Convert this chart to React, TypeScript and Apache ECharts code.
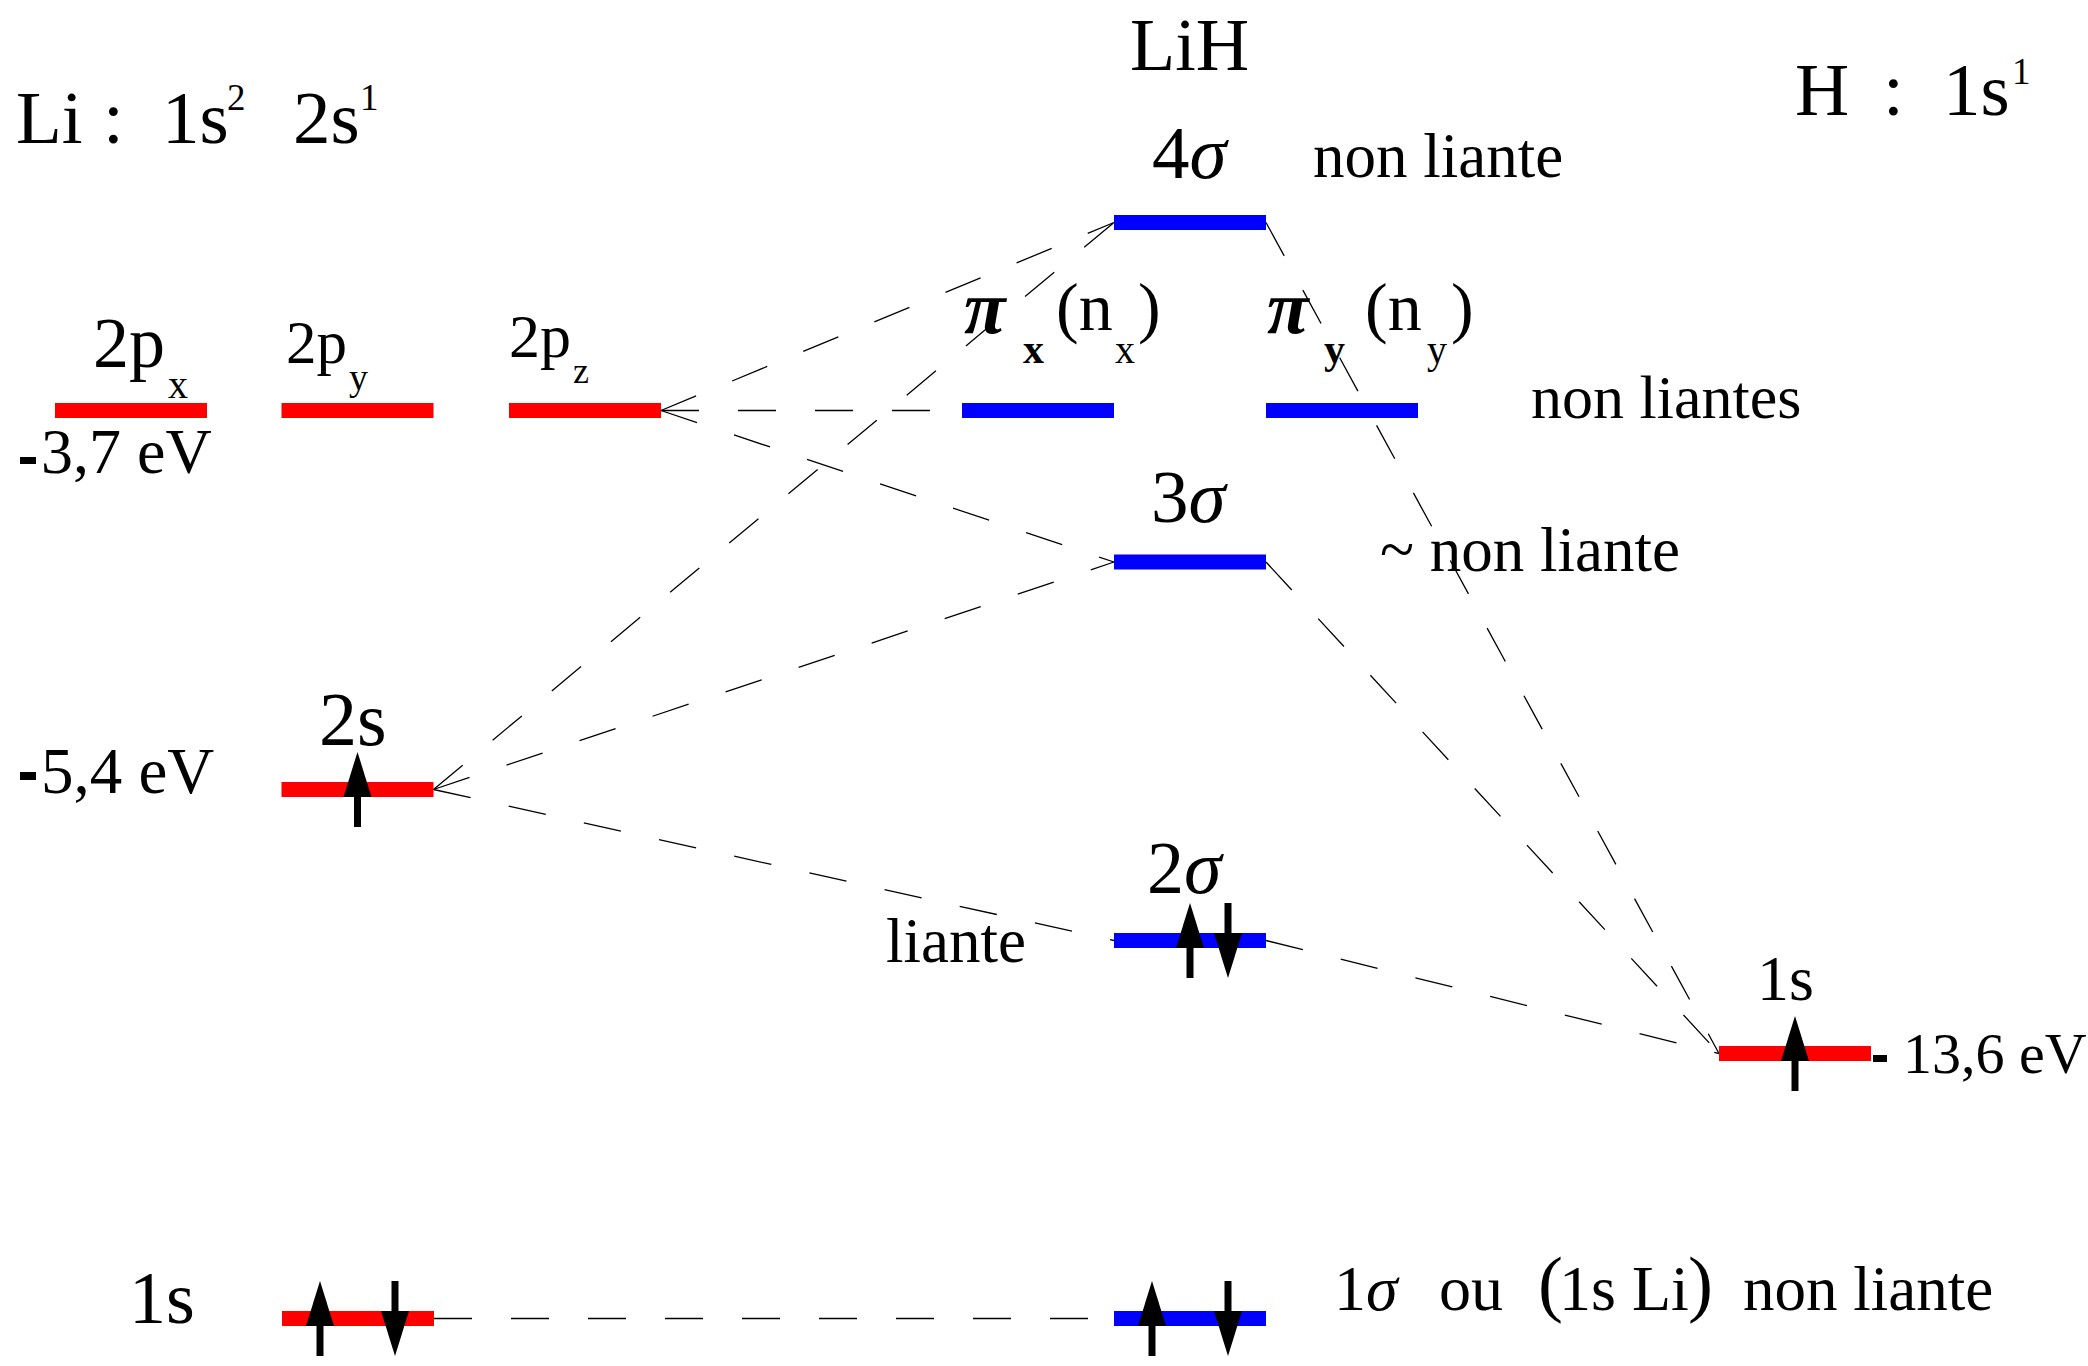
import React, { useEffect, useRef } from "react";
import * as echarts from "echarts";

const SERIF = '"Liberation Serif", "Times New Roman", Times, serif';
const BASE_K = 0.34; // distance from baseline to em-box centre, in em

// ---- Data -------------------------------------------------------------
// Orbitals of the diagram (atomic orbitals of Li and H, molecular orbitals of LiH)
const orbitalNames = ["2px", "2py", "2pz", "2s Li", "1s Li", "4σ", "πx", "πy", "3σ", "2σ", "1σ", "1s H"];
// column of each orbital along the horizontal diagram axis
const orbitalColumns = [131, 357.5, 585, 357.5, 358, 1190, 1038, 1342, 1190, 1190, 1190, 1795];
// schematic energy level (diagram height axis, top = highest energy)
const orbitalLevels = [410.5, 410.5, 410.5, 789.5, 1318.5, 222.5, 410.5, 410.5, 562, 940.5, 1318.5, 1053.5];
// atomic (red) or molecular (blue)
const orbitalKinds = ["atom", "atom", "atom", "atom", "atom", "mo", "mo", "mo", "mo", "mo", "mo", "atom"];
// electron spins in each orbital
const orbitalElectrons: string[][] = [[], [], [], ["up"], ["up", "down"], [], [], [], [], ["up", "down"], ["up", "down"], ["up"]];
// correlation lines (from orbital -> to orbital)
const connections: [string, string][] = [
  ["2pz", "4σ"],
  ["2pz", "πx"],
  ["2pz", "3σ"],
  ["2s Li", "4σ"],
  ["2s Li", "3σ"],
  ["2s Li", "2σ"],
  ["1s Li", "1σ"],
  ["4σ", "1s H"],
  ["3σ", "1s H"],
  ["2σ", "1s H"],
];
const energyLabels = ["3,7 eV", "5,4 eV", "13,6 eV"];

// ---- Layout / style ---------------------------------------------------
const HALF = 76;
const BAR_H = 15;
const RED = "#ff0000";
const BLUE = "#0000ff";
const electronOffsets: Record<string, number[]> = {
  "2s Li": [0],
  "1s Li": [-38, 37],
  "2σ": [0, 38],
  "1σ": [-38, 38],
  "1s H": [0],
};

// label pieces: [dx, dyBaseline, text, size, style] or ["rect", dx, dy, w, h]
type Piece = any[];
const labelLayout: Record<string, Piece[]> = {
  "2px": [
    [-38, -43.5, "2p", 72, "n"],
    [37, -12.5, "x", 40, "n"],
    ["rect", -111, 46.5, 16, 7],
    [-90, 62.5, energyLabels[0], 64, "n"],
  ],
  "2py": [
    [-71.5, -47.5, "2p", 61, "n"],
    [-8.5, -20.5, "y", 38, "n"],
  ],
  "2pz": [
    [-76, -53.5, "2p", 62, "n"],
    [-12, -27.5, "z", 36, "n"],
  ],
  "2s Li": [
    [-38.5, -44.5, "2s", 76, "n"],
    ["rect", -337.5, -17.5, 16, 8],
    [-316.5, 3.5, energyLabels[1], 65, "n"],
  ],
  "1s Li": [[-229, 4.5, "1s", 74, "n"]],
  "4σ": [
    [-38, -44.5, "4", 75, "n"],
    [-0.5, -44.5, "σ", 75, "i"],
    [123, -45.5, "non liante", 63, "n"],
  ],
  "πx": [
    [-74, -77.5, "π", 76, "bi"],
    [-15, -47.5, "x", 42, "b"],
    [18, -80.5, "(n", 68, "n"],
    [77, -47.5, "x", 40, "n"],
    [100, -80.5, ")", 68, "n"],
  ],
  "πy": [
    [-75, -77.5, "π", 76, "bi"],
    [-18, -47.5, "y", 42, "b"],
    [23, -80.5, "(n", 68, "n"],
    [85, -47.5, "y", 40, "n"],
    [109, -80.5, ")", 68, "n"],
    [189, 7.5, "non liantes", 62, "n"],
  ],
  "3σ": [
    [-39, -40, "3", 75, "n"],
    [-1.5, -40, "σ", 75, "i"],
    [190, 9, "~ non liante", 63, "n"],
  ],
  "2σ": [
    [-43, -47.5, "2", 74, "n"],
    [-6, -47.5, "σ", 76, "i"],
    [-304, 21.5, "liante", 63, "n"],
  ],
  "1σ": [
    [144, -8.5, "1", 64, "n"],
    [176, -8.5, "σ", 64, "i"],
    [249, -8.5, "ou", 64, "n"],
    [348, -10.5, "(", 75, "n"],
    [369, -8.5, "1s Li", 64, "n"],
    [498, -10.5, ")", 75, "n"],
    [553, -8.5, "non liante", 63, "n"],
  ],
  "1s H": [
    [-38, -53.5, "1s", 64, "n"],
    ["rect", 78, 1.5, 14, 7],
    [108, 19.5, energyLabels[2], 58, "n"],
  ],
};

function makeText(x: number, baseline: number, text: string, size: number, st = "n"): any {
  const italic = st.includes("i");
  const bold = st.includes("b");
  return {
    type: "text",
    x,
    y: baseline - BASE_K * size,
    silent: true,
    style: {
      text,
      fontSize: size,
      fontFamily: SERIF,
      fontStyle: italic ? "italic" : "normal",
      fontWeight: bold ? "bold" : "normal",
      fill: "#000",
      align: "left",
      verticalAlign: "middle",
      textAlign: "left",
      textVerticalAlign: "middle",
    },
  };
}

function electronArrow(x: number, cy: number, spin: string): any[] {
  const hw = 14;
  const sw = 7;
  if (spin === "up") {
    return [
      { type: "rect", shape: { x: x - sw / 2, y: cy + 6, width: sw, height: 31.5 }, style: { fill: "#000" } },
      { type: "polygon", shape: { points: [[x - hw, cy + 7.5], [x + hw, cy + 7.5], [x, cy - 37.5]] }, style: { fill: "#000" } },
    ];
  }
  return [
    { type: "rect", shape: { x: x - sw / 2, y: cy - 37.5, width: sw, height: 31.5 }, style: { fill: "#000" } },
    { type: "polygon", shape: { points: [[x - hw, cy - 7.5], [x + hw, cy - 7.5], [x, cy + 37.5]] }, style: { fill: "#000" } },
  ];
}

export default function App() {
  const ref = useRef<HTMLDivElement>(null);
  useEffect(() => {
    document.body.style.margin = "0";
    if (!ref.current) return;
    const chart = echarts.init(ref.current, undefined, { renderer: "svg" });
    const idx = (n: string) => orbitalNames.indexOf(n);

    const lineData = connections.map(([a, b]) => {
      const i = idx(a);
      const j = idx(b);
      return {
        coords: [
          [orbitalColumns[i] + HALF, orbitalLevels[i]],
          [orbitalColumns[j] - HALF, orbitalLevels[j]],
        ],
      };
    });

    const header = (x: number, baseline: number, text: string, size: number) => makeText(x, baseline, text, size);

    const option: any = {
      animation: false,
      backgroundColor: "#fff",
      grid: { left: 0, right: 0, top: 0, bottom: 0 },
      xAxis: { type: "value", min: 0, max: 2088, show: false },
      yAxis: { type: "value", min: 0, max: 1366, inverse: true, show: false },
      tooltip: { show: false },
      graphic: {
        elements: [
          header(16, 143, "Li", 75),
          header(103, 143, ":", 75),
          header(162, 143, "1s", 75),
          header(227, 110, "2", 37),
          header(293, 143, "2s", 75),
          header(360, 110, "1", 37),
          header(1130, 70, "LiH", 74),
          header(1795, 115, "H", 75),
          header(1883, 115, ":", 75),
          header(1943, 115, "1s", 75),
          header(2012, 84, "1", 37),
        ],
      },
      series: [
        {
          type: "lines",
          coordinateSystem: "cartesian2d",
          silent: true,
          z: 1,
          data: lineData,
          lineStyle: { color: "#000", width: 1.3, type: [38, 39], opacity: 1, curveness: 0 },
        },
        {
          type: "custom",
          coordinateSystem: "cartesian2d",
          silent: true,
          z: 2,
          data: orbitalNames.map((_, i) => [orbitalColumns[i], orbitalLevels[i], i]),
          renderItem: (params: any, api: any) => {
            const i = api.value(2);
            const name = orbitalNames[i];
            const col = api.value(0);
            const lvl = api.value(1);
            const [x0, cy] = api.coord([col - HALF, lvl]);
            const [x1] = api.coord([col + HALF, lvl]);
            const [cx] = api.coord([col, lvl]);
            const children: any[] = [];
            children.push({
              type: "rect",
              shape: { x: x0, y: cy - BAR_H / 2, width: x1 - x0, height: BAR_H },
              style: { fill: orbitalKinds[i] === "atom" ? RED : BLUE },
            });
            const offs = electronOffsets[name] || [];
            orbitalElectrons[i].forEach((spin, k) => {
              children.push(...electronArrow(cx + (offs[k] || 0), cy, spin));
            });
            (labelLayout[name] || []).forEach((p) => {
              if (p[0] === "rect") {
                children.push({
                  type: "rect",
                  shape: { x: cx + p[1], y: cy + p[2], width: p[3], height: p[4] },
                  style: { fill: "#000" },
                });
              } else {
                children.push(makeText(cx + p[0], cy + p[1], p[2], p[3], p[4]));
              }
            });
            return { type: "group", children };
          },
        },
      ],
    };
    chart.setOption(option);
    return () => chart.dispose();
  }, []);
  return (
    <div
      ref={ref}
      style={{ position: "fixed", left: 0, top: 0, width: 2088, height: 1366, background: "#fff" }}
    />
  );
}
